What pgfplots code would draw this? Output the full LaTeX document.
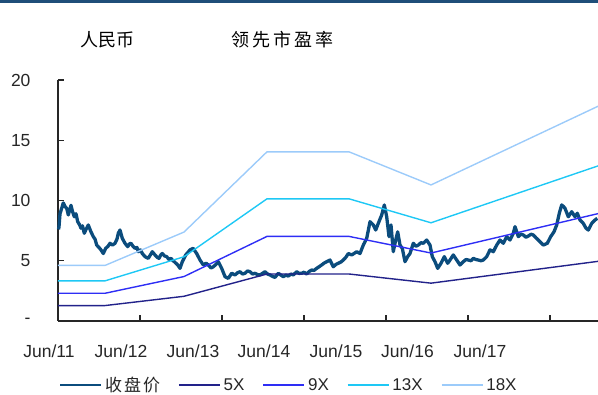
\documentclass[border=0pt]{standalone}
\usepackage{fontspec}
\usepackage{pgfplots}
\pgfplotsset{compat=1.18}
\setmainfont{Liberation Sans}
\newfontfamily\cjk{Noto Sans CJK SC}
\definecolor{price}{HTML}{0B4C7D}
\definecolor{cfive}{HTML}{22228A}
\definecolor{cnine}{HTML}{2E2EF5}
\definecolor{cthirteen}{HTML}{1EC8F5}
\definecolor{ceighteen}{HTML}{9CCBFA}
\definecolor{header}{HTML}{1F4E79}
\definecolor{txt}{HTML}{262626}
\pgfplotstableread{
x y
58.5 7.6
59 7.8
60 8.9
61.5 9.3
63.3 9.8
65 9.5
66.7 9.35
68.3 8.8
70 9.3
71 9.6
72.5 9.1
74.3 8.65
76 8.9
77.7 8.24
79.5 8.0
81 7.7
82.5 7.9
84.3 7.28
86 7.6
88.3 7.97
90 7.6
91 7.4
93.3 7.0
95 6.8
96.7 6.3
99 6.1
101 5.9
103.3 5.6
105.7 6.03
108 6.2
110 6.45
112.5 6.3
115 6.45
117 6.8
118.3 7.28
120 7.55
122.3 6.86
124 6.6
125 6.45
127.7 6.17
129.5 6.4
131 6.45
133 6.2
135 6.03
137 6.1
138.3 5.75
140.5 5.9
142.3 5.6
145 5.34
148.3 5.2
150.5 5.5
152.3 5.75
155 5.48
157 5.3
159 5.2
160.5 5.45
162.3 5.6
164.5 5.4
166.7 5.34
169 5.1
171 5.2
173 5.0
174.3 4.92
177.7 4.65
180 4.37
182.3 4.92
184 5.2
185.7 5.48
188 5.7
190 5.9
193.3 6.03
195 5.8
196.7 5.6
200 5.06
203.3 4.65
206 4.8
208.3 4.65
211 4.4
213.3 4.5
216 4.7
218.3 4.92
221.7 4.37
225 3.68
228.3 3.54
231.7 3.96
235 3.82
237.5 4.0
240 4.09
242.5 3.9
245 3.96
247.5 4.15
250 4.09
252.5 3.9
255 3.96
257.5 3.85
260 3.82
262.5 3.95
265 4.09
267.5 3.9
270 3.82
272.5 3.7
275 3.62
278.3 3.96
281 3.8
283.3 3.68
286 3.8
288.3 3.73
291 3.9
293.3 3.82
296.7 4.09
299 3.95
301.7 3.96
304 4.05
306.7 3.9
309 4.1
311.7 4.23
314 4.2
316.7 4.37
319 4.5
321.7 4.65
324 4.8
326.7 4.92
330 5.06
333.3 4.5
336 4.7
338.3 4.79
341 4.9
343.3 5.06
346 5.3
348.3 5.6
351.7 5.48
354 5.6
356.7 5.75
360 5.6
363.3 6.3
366.7 6.86
368.5 7.6
370 8.24
373.3 7.97
375.7 7.55
378.3 8.1
381.7 8.8
384.3 9.63
386.7 8.65
389 7.0
391 7.97
393.3 5.75
395.7 6.72
397.7 7.4
400 6.3
402.3 6.03
405 4.92
407.7 5.34
410 5.6
413.3 6.45
416 6.2
418.3 6.3
421 6.5
423.3 6.45
426.7 6.72
430 6.3
432.3 5.34
435 4.92
437.7 4.37
441 4.79
444.3 5.34
447.7 4.79
450 5.06
453.3 5.48
456.7 5.06
460 4.65
463.3 4.92
466 5.1
468.3 5.06
471 5.0
473.3 5.2
476 5.1
478.3 5.06
481 5.0
483.3 5.06
486.7 5.34
490 5.9
493.3 5.75
496.7 6.3
500 6.72
503.3 6.45
506.7 7.0
510 6.72
513.3 7.28
515 7.83
518.3 7.0
521 7.2
523.3 7.14
526 6.95
528.3 7.05
531 7.2
533.3 7.14
536 6.9
538.3 6.72
541 6.5
543.3 6.3
547.3 6.45
550.7 7.0
554 7.4
556.7 7.97
559.3 8.94
561.7 9.63
563.5 9.5
565 9.35
568.3 8.65
571.7 9.07
575 8.65
577.3 8.94
580 8.38
583.3 8.1
586 7.7
588.3 7.55
591.7 8.1
595 8.38
597.3 8.52
}\price
\pgfplotstableread{
x v5 v9 v13 v18
58 1.28 2.30 3.33 4.61
105 1.28 2.30 3.33 4.61
184 2.05 3.69 5.33 7.38
267 3.90 7.02 10.14 14.04
349 3.90 7.02 10.14 14.04
431 3.14 5.64 8.15 11.29
598 4.95 8.91 12.87 17.82
}\multiples
\begin{document}
\begin{tikzpicture}[x=1pt,y=1pt]
\useasboundingbox (0,0) rectangle (598,395);
\fill[header] (0,392) rectangle (598,395);
\node[font=\cjk\fontsize{18}{18}\selectfont, anchor=west, inner sep=0pt, text=black] at (80,355) {人民币};
\node[font=\cjk\fontsize{18}{18}\selectfont, anchor=west, inner sep=0pt, text=black] at (231,355) {领\kern3pt 先\kern3pt 市\kern3pt 盈\kern3pt 率};
\begin{axis}[
  at={(58pt,74pt)}, anchor=south west,
  width=540pt, height=241pt, scale only axis,
  xmin=58, xmax=598, ymin=0, ymax=20,
  axis x line*=bottom, axis y line*=left,
  axis line style={line width=1.2pt, color=txt},
  xtick={140,222,304,386,468,550}, xticklabels={},
  ytick={0,5,10,15,20}, yticklabels={-\hspace{10pt},5,10,15,20},
  tick align=inside, major tick length=6pt,
  tick style={line width=1.1pt, color=txt},
  /pgf/number format/assume math mode=true,
  yticklabel style={font=\fontsize{17.5}{17.5}\selectfont, text=txt, anchor=east, xshift=-24pt},
  clip=false,
  legend columns=5,
  legend style={at={(0.4278,-0.2656)}, anchor=center, draw=none, fill=none,
    font=\fontsize{17}{17}\selectfont, text=txt,
    /tikz/every even column/.append style={column sep=16pt},
    /tikz/every odd column/.append style={column sep=1pt}},
  legend image code/.code={\draw[#1, line width=1.6pt] (0pt,0pt) -- (41pt,0pt);},
]
\addplot[price, line width=3.3pt, line join=round] table[x=x,y=y] {\price};
\addlegendentry{\cjk 收\kern2pt 盘\kern2pt 价}
\addplot[cfive, line width=1.4pt] table[x=x,y=v5] {\multiples};
\addlegendentry{5X}
\addplot[cnine, line width=1.4pt] table[x=x,y=v9] {\multiples};
\addlegendentry{9X}
\addplot[cthirteen, line width=1.4pt] table[x=x,y=v13] {\multiples};
\addlegendentry{13X}
\addplot[ceighteen, line width=1.4pt] table[x=x,y=v18] {\multiples};
\addlegendentry{18X}
\node[anchor=base, font=\fontsize{17.5}{17.5}\selectfont, text=txt, inner sep=0pt, yshift=-37pt] at (axis cs:49,0) {Jun/11};
\node[anchor=base, font=\fontsize{17.5}{17.5}\selectfont, text=txt, inner sep=0pt, yshift=-37pt] at (axis cs:121,0) {Jun/12};
\node[anchor=base, font=\fontsize{17.5}{17.5}\selectfont, text=txt, inner sep=0pt, yshift=-37pt] at (axis cs:193,0) {Jun/13};
\node[anchor=base, font=\fontsize{17.5}{17.5}\selectfont, text=txt, inner sep=0pt, yshift=-37pt] at (axis cs:264,0) {Jun/14};
\node[anchor=base, font=\fontsize{17.5}{17.5}\selectfont, text=txt, inner sep=0pt, yshift=-37pt] at (axis cs:336,0) {Jun/15};
\node[anchor=base, font=\fontsize{17.5}{17.5}\selectfont, text=txt, inner sep=0pt, yshift=-37pt] at (axis cs:407.5,0) {Jun/16};
\node[anchor=base, font=\fontsize{17.5}{17.5}\selectfont, text=txt, inner sep=0pt, yshift=-37pt] at (axis cs:480,0) {Jun/17};
\end{axis}
\end{tikzpicture}
\end{document}
